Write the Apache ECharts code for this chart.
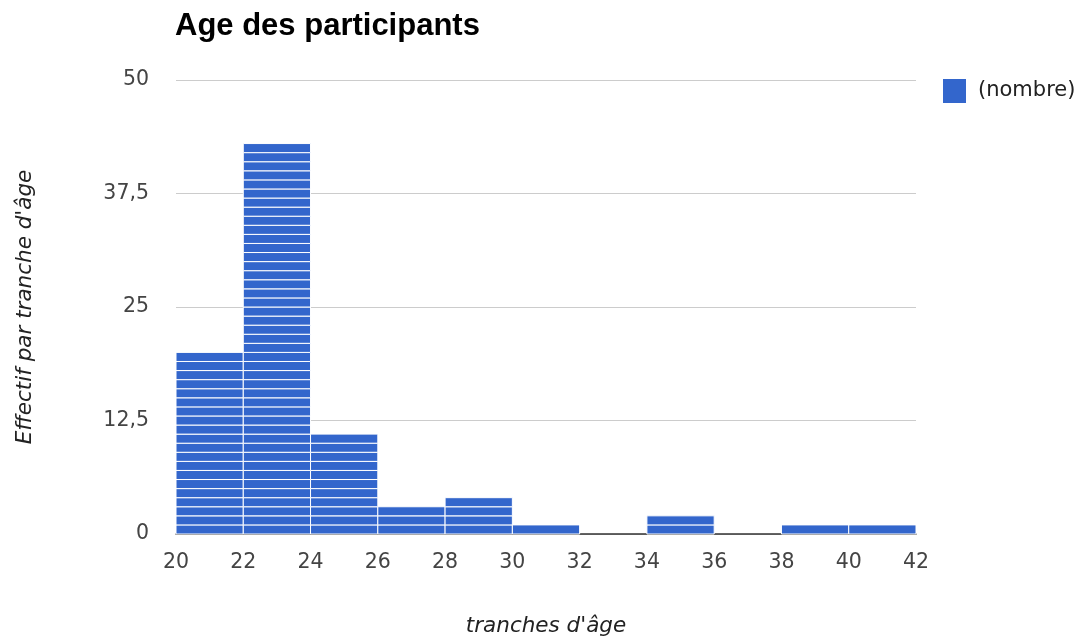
<!DOCTYPE html>
<html><head><meta charset="utf-8">
<script src="https://cdn.jsdelivr.net/npm/echarts@6/dist/echarts.min.js"></script>
<style>html,body{margin:0;padding:0;background:#fff;overflow:hidden}#c{width:1085px;height:642px}</style>
</head><body><div id="c"></div>
<script>
const binStarts = [20, 22, 24, 26, 28, 30, 32, 34, 36, 38, 40];
const binEnds   = [22, 24, 26, 28, 30, 32, 34, 36, 38, 40, 42];
const counts    = [20, 43, 11, 3, 4, 1, 0, 2, 0, 1, 1];
const xTicks = [20, 22, 24, 26, 28, 30, 32, 34, 36, 38, 40, 42];
const yTicks = [0, 12.5, 25, 37.5, 50];

const data = binStarts.map((s, i) => [s, binEnds[i], counts[i]]);
const chart = echarts.init(document.getElementById('c'), null, {renderer: 'canvas'});
const titleFont = 'Arial, "Liberation Sans", sans-serif';
const font = '"DejaVu Sans", sans-serif';
chart.setOption({
  animation: false,
  title: {text: 'Age des participants', left: 170, top: 6,
    textStyle: {fontFamily: titleFont, fontSize: 31, fontWeight: 'bold', color: '#000'}},
  legend: {data: [{name: '(nombre)', icon: 'rect'}], left: 938, top: 74, itemWidth: 23, itemHeight: 24,
    textStyle: {fontFamily: font, fontSize: 21, color: '#222', padding: [3, 0, 0, 7]}},
  grid: {left: 176, right: 169, top: 80, bottom: 106},
  xAxis: {type: 'value', min: 20, max: 42, interval: 2,
    name: "tranches d'âge", nameLocation: 'middle', nameGap: 81,
    nameTextStyle: {fontFamily: font, fontSize: 21.5, fontStyle: 'italic', color: '#222'},
    axisLine: {show: true, onZero: false, lineStyle: {color: '#333', width: 1.5}},
    axisTick: {show: false}, splitLine: {show: false},
    axisLabel: {fontFamily: font, fontSize: 20.5, color: '#444', margin: 18,
      formatter: v => xTicks.includes(v) ? String(v) : ''}},
  yAxis: {type: 'value', min: 0, max: 50, interval: 12.5,
    name: "Effectif par tranche d'âge", nameLocation: 'middle', nameGap: 140,
    nameTextStyle: {fontFamily: font, fontSize: 21.5, fontStyle: 'italic', color: '#222'},
    axisLine: {show: false}, axisTick: {show: false},
    splitLine: {lineStyle: {color: '#cccccc', width: 1}},
    axisLabel: {fontFamily: font, fontSize: 20.5, color: '#444', margin: 27,
      formatter: v => yTicks.includes(v) ? String(v).replace('.', ',') : ''}},
  series: [{
    name: '(nombre)', type: 'custom', itemStyle: {color: '#3366cc'},
    encode: {x: [0, 1], y: 2},
    data: data,
    renderItem: function (params, api) {
      const x0 = api.value(0), x1 = api.value(1), n = api.value(2);
      const children = [];
      for (let k = 0; k < n; k++) {
        const p0 = api.coord([x0, k + 1]);
        const p1 = api.coord([x1, k]);
        children.push({type: 'rect',
          shape: {x: p0[0], y: p0[1], width: p1[0] - p0[0], height: p1[1] - p0[1]},
          style: {fill: '#3366cc', stroke: '#ffffff', lineWidth: 1}});
      }
      return {type: 'group', children: children};
    }
  }]
});
</script></body></html>
